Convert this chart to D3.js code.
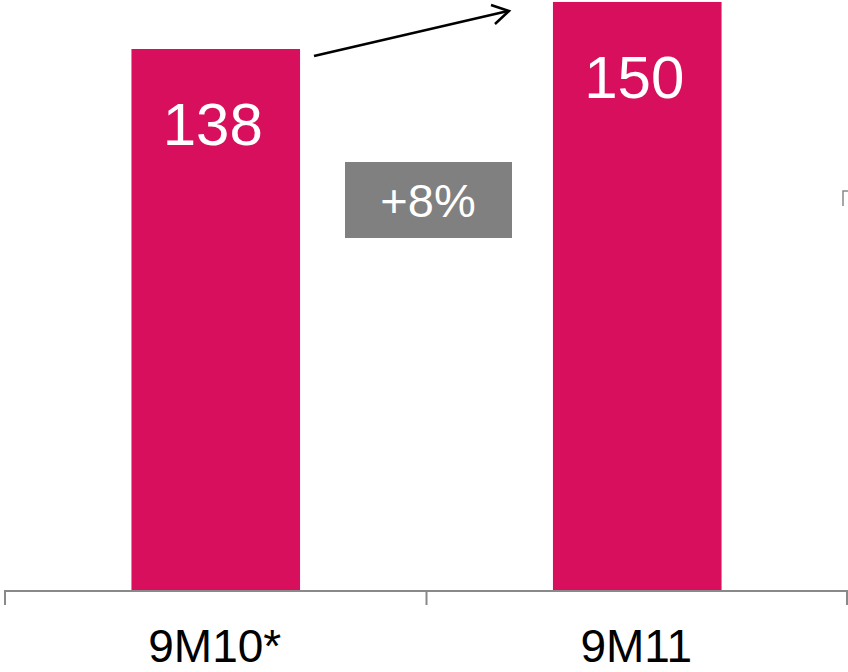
<!DOCTYPE html>
<html>
<head>
<meta charset="utf-8">
<script src="https://cdn.jsdelivr.net/npm/d3@7"></script>
<style>
  html, body { margin: 0; padding: 0; background: #fff; }
  svg { display: block; }
  text { font-family: "Liberation Sans", Arial, sans-serif; }
</style>
</head>
<body>
<svg id="chart" width="848" height="672"></svg>
<script>
const categories = ["9M10*", "9M11"];
const values = [138, 150];
const growthLabel = "+8%";

const W = 848, H = 672;
const svg = d3.select("#chart");

const x = d3.scaleBand().domain(categories).range([5, 848]).paddingInner(0).paddingOuter(0);
const y = d3.scaleLinear().domain([0, 150.5]).range([590, 0]);
const barW = x.bandwidth() * 0.4;
const barColor = "#D70F5C";

// bars
svg.selectAll("rect.bar").data(categories).join("rect")
  .attr("class", "bar")
  .attr("x", d => x(d) + x.bandwidth() / 2 - barW / 2)
  .attr("width", barW)
  .attr("y", (d, i) => y(values[i]))
  .attr("height", (d, i) => y(0) - y(values[i]))
  .attr("fill", barColor);

// value labels
svg.selectAll("text.val").data(categories).join("text")
  .attr("class", "val")
  .attr("x", d => x(d) + x.bandwidth() / 2 - 3)
  .attr("y", (d, i) => y(values[i]) + 96)
  .attr("text-anchor", "middle")
  .attr("fill", "#fff")
  .attr("font-size", 60)
  .text((d, i) => values[i]);

// axis
const axisY = 591;
svg.append("line").attr("x1", 4).attr("x2", 848).attr("y1", axisY).attr("y2", axisY)
  .attr("stroke", "#898989").attr("stroke-width", 2);
const tickXs = [x.range()[0], ...categories.slice(1).map(c => x(c)), x.range()[1]];
svg.selectAll("line.tick").data(tickXs).join("line")
  .attr("class", "tick")
  .attr("x1", d => Math.min(d, 847)).attr("x2", d => Math.min(d, 847))
  .attr("y1", axisY).attr("y2", 605)
  .attr("stroke", "#898989").attr("stroke-width", 2);

// category labels
svg.selectAll("text.cat").data(categories).join("text")
  .attr("class", "cat")
  .attr("x", d => x(d) + x.bandwidth() / 2 - 1)
  .attr("y", 662)
  .attr("text-anchor", "middle")
  .attr("fill", "#000")
  .attr("font-size", 46)
  .text(d => d);

// growth box
svg.append("rect").attr("x", 345).attr("y", 162).attr("width", 167).attr("height", 76)
  .attr("fill", "#808080");
svg.append("text").attr("x", 428).attr("y", 217).attr("text-anchor", "middle")
  .attr("fill", "#fff").attr("font-size", 47).text(growthLabel);

// arrow
svg.append("line").attr("x1", 314).attr("y1", 56).attr("x2", 508).attr("y2", 11)
  .attr("stroke", "#000").attr("stroke-width", 2.5);
svg.append("path").attr("d", "M491,5 L509,11 L495,24")
  .attr("fill", "none").attr("stroke", "#000").attr("stroke-width", 2.5)
  .attr("stroke-linejoin", "miter");

// small corner mark at right
svg.append("path").attr("d", "M843,206 L843,191 L848,191")
  .attr("fill", "none").attr("stroke", "#898989").attr("stroke-width", 1.5);
</script>
</body>
</html>
